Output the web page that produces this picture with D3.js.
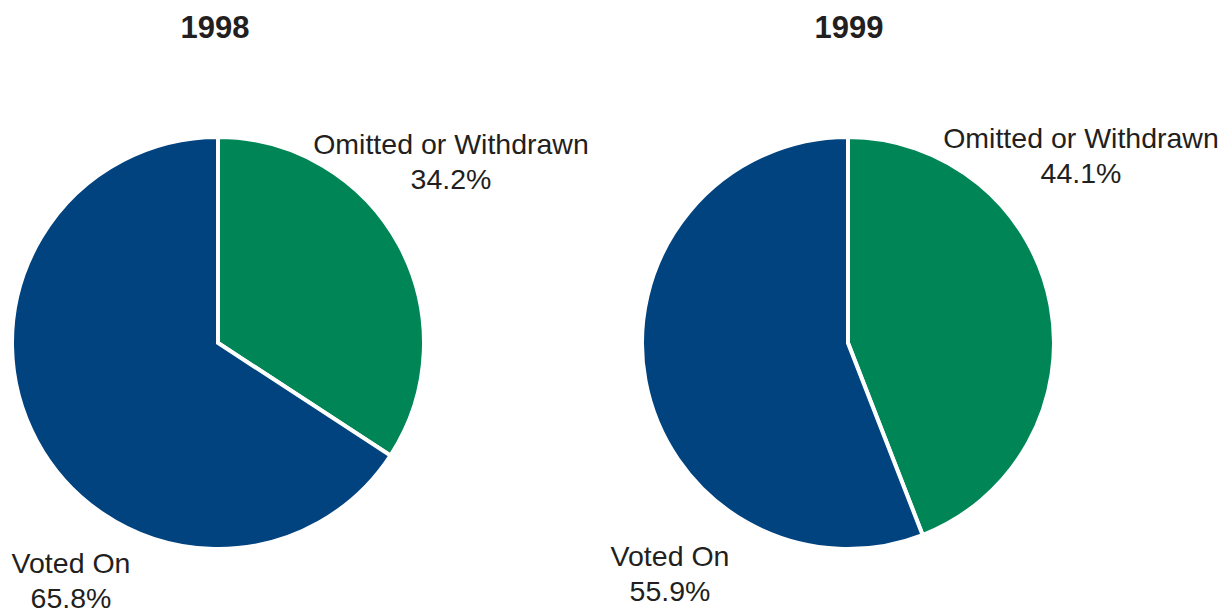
<!DOCTYPE html>
<html>
<head>
<meta charset="utf-8">
<script src="https://cdn.jsdelivr.net/npm/d3@7"></script>
<style>
  body { margin: 0; background: #fff; }
  text { font-family: "Liberation Sans", Arial, sans-serif; fill: #231f20; }
</style>
</head>
<body>
<div id="chart"></div>
<script>
// Dados
let years = ["1998", "1999"];
let categories = ["Omitted or Withdrawn", "Voted On"];
let values_1998 = [34.2, 65.8];
let values_1999 = [44.1, 55.9];
let colors = ["#008556", "#00437f"];

// Canvas
let width = 1232;
let height = 613;

let svg = d3.select('#chart')
    .append('svg')
    .attr('width', width)
    .attr('height', height);

let pie = d3.pie().sort(null).value(d => d);
let arc = d3.arc().innerRadius(0).outerRadius(206);

let color = d3.scaleOrdinal().domain(categories).range(colors);

// layout de cada pizza
let panels = [
    {year: years[0], values: values_1998, cx: 218, cy: 343, titleX: 215,
     labels: [{x: 451, y: 154}, {x: 71, y: 573}]},
    {year: years[1], values: values_1999, cx: 848, cy: 343, titleX: 849,
     labels: [{x: 1081, y: 148}, {x: 670, y: 566}]}
];

panels.forEach(p => {
    let g = svg.append('g').attr('transform', `translate(${p.cx},${p.cy})`);

    g.selectAll('path')
        .data(pie(p.values))
        .enter()
        .append('path')
        .attr('d', arc)
        .attr('fill', (d, i) => color(categories[i]))
        .attr('stroke', '#fff')
        .attr('stroke-width', 4)
        .attr('stroke-linejoin', 'miter');

    svg.append('text')
        .attr('x', p.titleX)
        .attr('y', 38)
        .attr('text-anchor', 'middle')
        .attr('font-size', 31)
        .attr('font-weight', 'bold')
        .text(p.year);

    p.labels.forEach((l, i) => {
        let t = svg.append('text')
            .attr('x', l.x)
            .attr('y', l.y)
            .attr('text-anchor', 'middle')
            .attr('font-size', 28.5);
        t.append('tspan').attr('x', l.x).text(categories[i]);
        t.append('tspan').attr('x', l.x).attr('dy', 35).text(d3.format('.1f')(p.values[i]) + '%');
    });
});
</script>
</body>
</html>
